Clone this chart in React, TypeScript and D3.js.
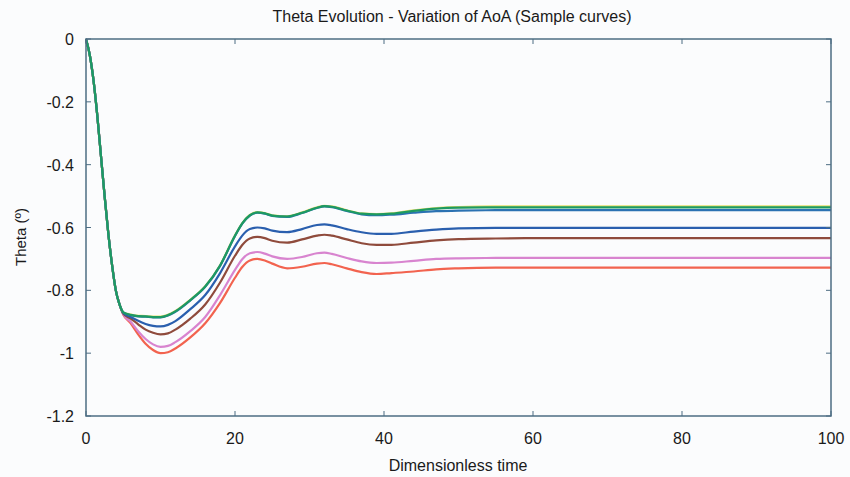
import React from "react";
import * as d3 from "d3";

const TITLE = "Theta Evolution - Variation of AoA (Sample curves)";
const X_LABEL = "Dimensionless time";
const Y_LABEL = "Theta (º)";
const xTicks = [0, 20, 40, 60, 80, 100];
const yTicks = [0, -0.2, -0.4, -0.6, -0.8, -1, -1.2];

const times = [0, 0.5, 1, 1.5, 2, 2.5, 3, 3.5, 4, 4.5, 5, 6, 7, 8, 9, 10, 11, 12, 14, 16, 18, 20, 21, 22, 23, 24, 25, 27, 29, 31, 32, 33, 35, 37, 39, 41, 44, 47, 50, 55, 60, 70, 80, 90, 100];

const yellowVals = [0, -0.05, -0.13, -0.24, -0.37, -0.5, -0.62, -0.72, -0.8, -0.845, -0.87, -0.877, -0.881, -0.882, -0.884, -0.884, -0.878, -0.866, -0.83, -0.787, -0.72, -0.625, -0.585, -0.56, -0.551, -0.554, -0.561, -0.564, -0.552, -0.536, -0.531, -0.533, -0.545, -0.555, -0.557, -0.555, -0.545, -0.538, -0.535, -0.533, -0.533, -0.533, -0.533, -0.533, -0.533];
const greenVals = [0, -0.05, -0.13, -0.24, -0.37, -0.5, -0.62, -0.72, -0.8, -0.845, -0.87, -0.878, -0.882, -0.883, -0.885, -0.885, -0.879, -0.867, -0.831, -0.788, -0.721, -0.626, -0.586, -0.561, -0.552, -0.555, -0.562, -0.565, -0.553, -0.537, -0.532, -0.534, -0.546, -0.556, -0.558, -0.556, -0.547, -0.54, -0.537, -0.536, -0.536, -0.536, -0.536, -0.536, -0.536];
const tealVals = [0, -0.05, -0.13, -0.24, -0.37, -0.5, -0.62, -0.72, -0.8, -0.845, -0.87, -0.879, -0.883, -0.884, -0.886, -0.886, -0.88, -0.868, -0.832, -0.789, -0.722, -0.627, -0.587, -0.562, -0.553, -0.556, -0.563, -0.566, -0.554, -0.538, -0.533, -0.535, -0.547, -0.558, -0.561, -0.559, -0.553, -0.548, -0.546, -0.545, -0.545, -0.545, -0.545, -0.545, -0.545];
const blueVals = [0, -0.05, -0.13, -0.24, -0.37, -0.5, -0.62, -0.72, -0.8, -0.845, -0.872, -0.885, -0.897, -0.907, -0.913, -0.915, -0.91, -0.898, -0.86, -0.815, -0.745, -0.66, -0.625, -0.605, -0.6, -0.603, -0.61, -0.615, -0.605, -0.592, -0.59, -0.593, -0.605, -0.615, -0.62, -0.62, -0.613, -0.607, -0.603, -0.601, -0.601, -0.601, -0.601, -0.601, -0.601];
const brownVals = [0, -0.05, -0.13, -0.24, -0.37, -0.5, -0.62, -0.72, -0.8, -0.845, -0.874, -0.89, -0.908, -0.925, -0.935, -0.94, -0.937, -0.925, -0.89, -0.845, -0.775, -0.69, -0.655, -0.635, -0.63, -0.634, -0.642, -0.648, -0.638, -0.626, -0.623, -0.626, -0.638, -0.65, -0.655, -0.655, -0.648, -0.641, -0.637, -0.635, -0.634, -0.634, -0.634, -0.634, -0.634];
const violetVals = [0, -0.05, -0.13, -0.24, -0.37, -0.5, -0.62, -0.72, -0.8, -0.845, -0.876, -0.9, -0.93, -0.955, -0.972, -0.98, -0.977, -0.965, -0.93, -0.885, -0.815, -0.735, -0.7, -0.682, -0.678, -0.683, -0.692, -0.7, -0.694, -0.682, -0.68, -0.684, -0.697, -0.708, -0.713, -0.712, -0.706, -0.7, -0.698, -0.697, -0.697, -0.697, -0.697, -0.697, -0.697];
const redVals = [0, -0.05, -0.13, -0.24, -0.37, -0.5, -0.62, -0.72, -0.8, -0.845, -0.877, -0.905, -0.94, -0.97, -0.99, -1.0, -0.997, -0.985, -0.95, -0.905, -0.84, -0.76, -0.725, -0.705, -0.7, -0.705, -0.715, -0.73, -0.725, -0.715, -0.713, -0.717, -0.73, -0.742, -0.748, -0.745, -0.74, -0.733, -0.73, -0.728, -0.728, -0.728, -0.728, -0.728, -0.728];

const seriesList = [
  { name: "red", values: redVals, color: "#f2634f" },
  { name: "violet", values: violetVals, color: "#d884cf" },
  { name: "brown", values: brownVals, color: "#8f4b3c" },
  { name: "blue", values: blueVals, color: "#2a5fae" },
  { name: "yellow", values: yellowVals, color: "#e6df6a" },
  { name: "teal", values: tealVals, color: "#2b72b2" },
  { name: "green", values: greenVals, color: "#1d9a62" },
];

const W = 850;
const H = 477;
const M = { left: 86, right: 831, top: 39, bottom: 416 };
const AXIS = "#4d6d83";
const FONT = "'Liberation Sans', Arial, sans-serif";

export default function App() {
  const x = d3.scaleLinear().domain([0, 100]).range([M.left, M.right]);
  const y = d3.scaleLinear().domain([-1.2, 0]).range([M.bottom, M.top]);
  const line = d3
    .line<[number, number]>()
    .x((d) => x(d[0]))
    .y((d) => y(d[1]))
    .curve(d3.curveMonotoneX);

  return (
    <svg
      width={W}
      height={H}
      style={{ position: "absolute", left: 0, top: 0, background: "#fbfcfd" }}
    >
      <rect x={0} y={0} width={W} height={H} fill="#fbfcfd" />
      <text x={452} y={22} textAnchor="middle" fontFamily={FONT} fontSize={16} fill="#1a1a1a">
        {TITLE}
      </text>
      <g>
        {seriesList.map((s) => (
          <path
            key={s.name}
            d={line(times.map((t, i) => [t, s.values[i]] as [number, number])) || ""}
            fill="none"
            stroke={s.color}
            strokeWidth={2.2}
            strokeLinejoin="round"
          />
        ))}
      </g>
      <rect
        x={M.left}
        y={M.top}
        width={M.right - M.left}
        height={M.bottom - M.top}
        fill="none"
        stroke={AXIS}
        strokeWidth={1.5}
      />
      {xTicks.map((t) => (
        <g key={"x" + t}>
          <line x1={x(t)} x2={x(t)} y1={M.bottom} y2={M.bottom - 5} stroke={AXIS} strokeWidth={1} />
          <line x1={x(t)} x2={x(t)} y1={M.top} y2={M.top + 5} stroke={AXIS} strokeWidth={1} />
          <text x={x(t)} y={M.bottom + 28} textAnchor="middle" fontFamily={FONT} fontSize={16} fill="#1a1a1a">
            {t}
          </text>
        </g>
      ))}
      {yTicks.map((v) => (
        <g key={"y" + v}>
          <line x1={M.left} x2={M.left + 5} y1={y(v)} y2={y(v)} stroke={AXIS} strokeWidth={1} />
          <line x1={M.right} x2={M.right - 5} y1={y(v)} y2={y(v)} stroke={AXIS} strokeWidth={1} />
          <text x={74} y={y(v) + 6} textAnchor="end" fontFamily={FONT} fontSize={16} fill="#1a1a1a">
            {v === 0 ? "0" : d3.format(".1~f")(v).replace("−", "-")}
          </text>
        </g>
      ))}
      <text x={458} y={471} textAnchor="middle" fontFamily={FONT} fontSize={16} fill="#1a1a1a">
        {X_LABEL}
      </text>
      <text
        transform={`translate(26, ${237}) rotate(-90)`}
        textAnchor="middle"
        fontFamily={FONT}
        fontSize={15}
        fill="#1a1a1a"
      >
        {Y_LABEL}
      </text>
    </svg>
  );
}
